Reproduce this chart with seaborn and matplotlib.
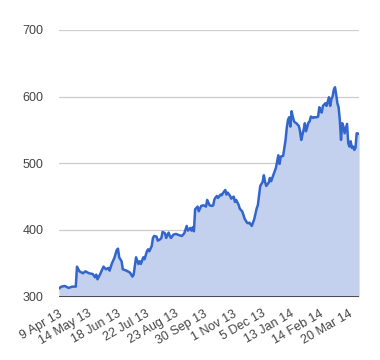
import numpy as np
import pandas as pd
import matplotlib
matplotlib.use("Agg")
import matplotlib.pyplot as plt
import seaborn as sns

# ── veri (işlem günü indeksi, kapanış) ─────────────────────────────────────
day = [0, 2, 5, 8, 11, 14, 15, 17, 20, 22, 25, 28, 30, 31, 32, 34, 37, 39, 41, 42,
       44, 46, 48, 49, 50, 52, 53, 56, 59, 61, 62, 64, 66, 67, 68, 70, 71, 73, 74, 75,
       77, 78, 79, 81, 82, 84, 85, 86, 88, 89, 91, 92, 93, 95, 97, 100, 102, 104, 106, 107,
       109, 110, 111, 112, 113, 115, 116, 118, 120, 122, 123, 125, 127, 128, 129, 131, 132, 134, 135, 136,
       138, 139, 140, 142, 143, 145, 146, 147, 149, 150, 152, 153, 154, 156, 157, 158, 160, 161, 162, 164,
       165, 166, 167, 169, 170, 171, 172, 174, 175, 176, 178, 179, 180, 182, 183, 184, 186, 188, 189, 190,
       191, 192, 193, 194, 195, 196, 197, 199, 200, 201, 202, 203, 204, 205, 207, 208, 209, 211, 212, 214,
       215, 216, 217, 218, 219, 221, 222, 224, 225, 226, 227, 228, 229, 230, 231, 232, 233, 234, 235, 236,
       237, 239, 240, 241, 242, 243, 244, 245, 246, 247, 249]
price = [312, 315, 316, 313, 315, 315, 345, 338, 335, 338, 335, 334, 329, 333, 326, 333, 345, 341, 343, 339,
         350, 358, 370, 372, 359, 353, 341, 339, 336, 330, 333, 359, 349, 353, 349, 359, 356, 368, 371, 368,
         376, 388, 391, 390, 384, 386, 388, 397, 395, 388, 396, 391, 388, 393, 394, 392, 391, 395, 406, 399,
         403, 399, 404, 398, 431, 435, 428, 436, 437, 435, 445, 437, 436, 437, 446, 451, 448, 453, 452, 455,
         460, 453, 456, 451, 447, 450, 442, 445, 438, 432, 428, 423, 417, 411, 410, 411, 406, 411, 416, 432,
         437, 451, 466, 472, 482, 472, 466, 471, 478, 473, 483, 488, 493, 512, 499, 510, 511, 535, 553, 565,
         569, 555, 578, 570, 563, 561, 560, 556, 548, 535, 543, 550, 560, 548, 561, 563, 570, 568, 569, 569,
         570, 584, 578, 576, 586, 590, 586, 599, 586, 596, 600, 610, 614, 603, 590, 584, 565, 535, 560, 555,
         545, 559, 530, 525, 533, 523, 525, 520, 523, 545, 544]
tick_day = [0, 24, 48, 72, 96, 120, 144, 168, 192, 216, 240]
tick_lbl = ["9 Apr 13", "14 May 13", "18 Jun 13", "22 Jul 13", "23 Aug 13", "30 Sep 13",
            "1 Nov 13", "5 Dec 13", "13 Jan 14", "14 Feb 14", "20 Mar 14"]
y_ticks = [300, 400, 500, 600, 700]

LINE = "#3366cc"
FILL = "#c3d1ee"
TXT = "#444444"

sns.set_theme(style="white")
plt.rcParams["font.family"] = ["Liberation Sans", "DejaVu Sans"]

df = pd.DataFrame({"day": day, "price": price})

fig = plt.figure(figsize=(3.8, 3.6), dpi=100)
ax = fig.add_axes([0.155, 0.176, 0.79, 0.741])

for v in y_ticks[1:]:
    ax.axhline(v, color="#cccccc", lw=0.9, zorder=0)

ax.fill_between(df["day"], df["price"], 300, color=FILL, lw=0, zorder=1)
sns.lineplot(data=df, x="day", y="price", color=LINE, lw=1.8, ax=ax, zorder=3)
ax.axhline(300, color="#333333", lw=1.2, zorder=4)

ax.set_xlim(0, 249)
ax.set_ylim(300, 700)
ax.set_yticks(y_ticks)
ax.set_yticklabels([str(v) for v in y_ticks], color=TXT, fontsize=9)
ax.set_xticks(tick_day)
ax.set_xticklabels(tick_lbl, rotation=30, ha="right", rotation_mode="anchor",
                   color=TXT, fontsize=9)
ax.tick_params(axis="y", length=0, pad=11)
ax.tick_params(axis="x", length=0, pad=8)
ax.set_xlabel("")
ax.set_ylabel("")
for s in ax.spines.values():
    s.set_visible(False)

fig.savefig("out.png", dpi=100)
